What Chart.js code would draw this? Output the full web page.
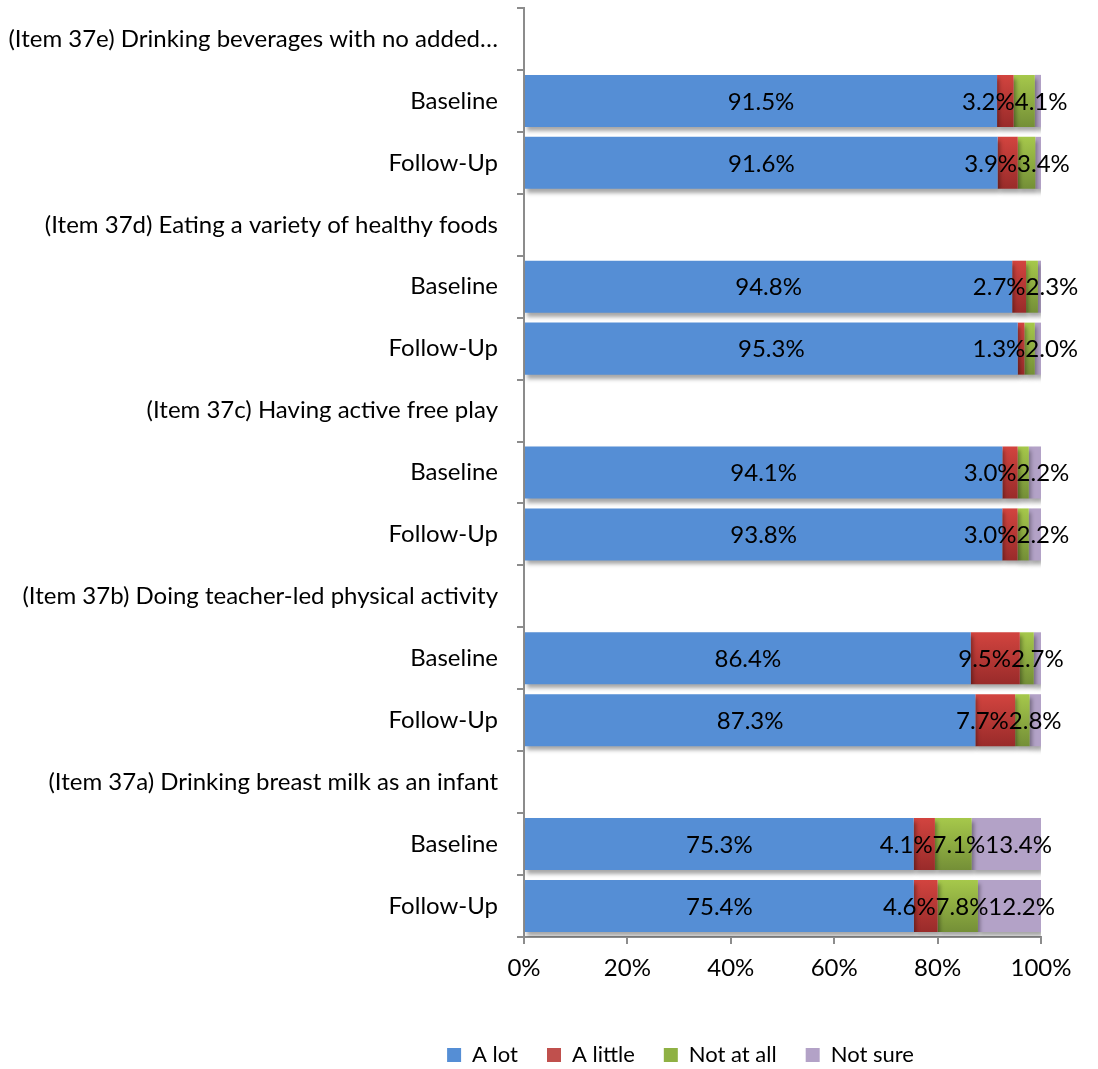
<!DOCTYPE html>
<html>
<head>
<meta charset="utf-8">
<script src="https://cdn.jsdelivr.net/npm/chart.js@4/dist/chart.umd.min.js"></script>
<style>
    html, body { margin: 0; padding: 0; background: #fff; }
    #wrap { width: 1098px; height: 1069px; position: relative; }
</style>
</head>
<body>
<div id="wrap"><canvas id="chart"></canvas></div>
<script>
// rows top to bottom; header rows carry no bars
const categories = [
    "(Item 37e) Drinking beverages with no added…", "Baseline", "Follow-Up",
    "(Item 37d) Eating a variety of healthy foods", "Baseline", "Follow-Up",
    "(Item 37c) Having active free play", "Baseline", "Follow-Up",
    "(Item 37b) Doing teacher-led physical activity", "Baseline", "Follow-Up",
    "(Item 37a) Drinking breast milk as an infant", "Baseline", "Follow-Up",
];

const seriesNames = ["A lot", "A little", "Not at all", "Not sure"];

const aLot =     [null, 91.5, 91.6, null, 94.8, 95.3, null, 94.1, 93.8, null, 86.4, 87.3, null, 75.3, 75.4];
const aLittle =  [null, 3.2, 3.9, null, 2.7, 1.3, null, 3.0, 3.0, null, 9.5, 7.7, null, 4.1, 4.6];
const notAtAll = [null, 4.1, 3.4, null, 2.3, 2.0, null, 2.2, 2.2, null, 2.7, 2.8, null, 7.1, 7.8];
const notSure =  [null, 1.2, 1.1, null, 0.6, 1.2, null, 2.4, 2.4, null, 1.4, 2.2, null, 13.4, 12.2];

const xTicks = [0, 20, 40, 60, 80, 100];

const seriesValues = [aLot, aLittle, notAtAll, notSure];
// smallest value that still gets a label, per series
const labelMin = [0, 0, 0, 3];

const FONT = "Lato, 'Open Sans', sans-serif";
const AXIS_GREY = "#8c8c8c";

// 100% stacked: each row is scaled to its own total
const rowTotals = categories.map((_, i) =>
    seriesValues.reduce((sum, s) => sum + (s[i] ?? 0), 0)
);

function normalise(values) {
    return values.map((v, i) => (v == null ? null : (v / rowTotals[i]) * 100));
}

function verticalGradient(top, bottom) {
    return (context) => {
        const chart = context.chart;
        const yScale = chart.scales.y;
        if (!yScale || context.dataIndex == null) return top;
        const cy = yScale.getPixelForValue(context.dataIndex);
        const half = 26;
        const g = chart.ctx.createLinearGradient(0, cy - half, 0, cy + half);
        g.addColorStop(0, top);
        g.addColorStop(1, bottom);
        return g;
    };
}

const seriesColors = [
    "#558ed5",
    verticalGradient("#d2443f", "#992b2a"),
    verticalGradient("#a6c84b", "#748f37"),
    "#b3a2c7",
];
const legendColors = ["#558ed5", "#c0504d", "#8fb144", "#b3a2c7"];

const barLabels = {
    id: "barLabels",
    beforeDatasetsDraw(chart) {
        const ctx = chart.ctx;
        ctx.save();
        ctx.shadowColor = "rgba(0, 0, 0, 0.35)";
        ctx.shadowBlur = 4;
        ctx.shadowOffsetX = 2;
        ctx.shadowOffsetY = 4;
    },
    afterDatasetsDraw(chart) {
        const ctx = chart.ctx;
        ctx.restore();

        ctx.save();
        ctx.font = `24px ${FONT}`;
        ctx.fillStyle = "#000";
        ctx.textAlign = "center";
        ctx.textBaseline = "middle";

        categories.forEach((_, i) => {
            const items = [];
            seriesValues.forEach((values, d) => {
                const raw = values[i];
                if (raw == null || raw < labelMin[d]) return;
                const bar = chart.getDatasetMeta(d).data[i];
                const text = raw.toFixed(1) + "%";
                items.push({ text, d, w: ctx.measureText(text).width, x: (bar.base + bar.x) / 2, y: bar.y });
            });

            // push overlapping labels apart, like Excel does
            for (let n = 0; n < 40; n++) {
                for (let k = 1; k < items.length; k++) {
                    const a = items[k - 1];
                    const b = items[k];
                    const need = (a.w + b.w) / 2;
                    const diff = b.x - a.x;
                    if (diff < need) {
                        const shift = (need - diff) / 2;
                        if (a.d === 0) {
                            b.x += shift * 2;
                        } else {
                            a.x -= shift;
                            b.x += shift;
                        }
                    }
                }
            }

            items.forEach((it) => ctx.fillText(it.text, it.x, it.y + 1));
        });
        ctx.restore();
    },
};

const legendNudge = {
    id: "legendNudge",
    afterLayout(chart) {
        chart.legend.left += 320;
        chart.legend.top += 7;
        chart.legend.bottom += 7;
    },
};

new Chart(document.getElementById("chart"), {
    type: "bar",
    data: {
        labels: categories,
        datasets: seriesValues.map((values, d) => ({
            label: seriesNames[d],
            data: normalise(values),
            backgroundColor: seriesColors[d],
            borderWidth: 0,
            categoryPercentage: 1,
            barPercentage: 0.84,
        })),
    },
    options: {
        indexAxis: "y",
        responsive: true,
        maintainAspectRatio: false,
        animation: false,
        devicePixelRatio: 1,
        layout: { padding: { top: 8, right: 57, left: 0, bottom: 0 } },
        scales: {
            x: {
                stacked: true,
                min: 0,
                max: 100,
                afterBuildTicks(scale) {
                    scale.ticks = xTicks.map((v) => ({ value: v }));
                },
                afterFit(scale) {
                    scale.height = 71;
                },
                ticks: {
                    callback: (v) => v + "%",
                    color: "#000",
                    font: { family: FONT, size: 24 },
                    padding: 10,
                    maxRotation: 0,
                },
                grid: {
                    drawOnChartArea: false,
                    drawTicks: true,
                    tickLength: 7,
                    color: AXIS_GREY,
                    lineWidth: 2,
                },
                border: { color: AXIS_GREY, width: 2 },
            },
            y: {
                stacked: true,
                afterFit(scale) {
                    scale.width = 524;
                    scale.paddingTop = 0;
                    scale.paddingBottom = 0;
                },
                ticks: {
                    color: "#000",
                    font: { family: FONT, size: 24 },
                    padding: 19,
                    autoSkip: false,
                },
                grid: {
                    offset: true,
                    drawOnChartArea: false,
                    drawTicks: true,
                    tickLength: 7,
                    color: AXIS_GREY,
                    lineWidth: 2,
                },
                border: { color: AXIS_GREY, width: 2 },
            },
        },
        plugins: {
            tooltip: { enabled: false },
            legend: {
                position: "bottom",
                labels: {
                    color: "#000",
                    font: { family: FONT, size: 22 },
                    boxWidth: 14,
                    boxHeight: 14,
                    padding: 29,
                    generateLabels: (chart) =>
                        seriesNames.map((name, d) => ({
                            text: name,
                            fillStyle: legendColors[d],
                            strokeStyle: legendColors[d],
                            lineWidth: 0,
                            datasetIndex: d,
                            hidden: false,
                        })),
                },
            },
        },
    },
    plugins: [barLabels, legendNudge],
});
</script>
</body>
</html>
